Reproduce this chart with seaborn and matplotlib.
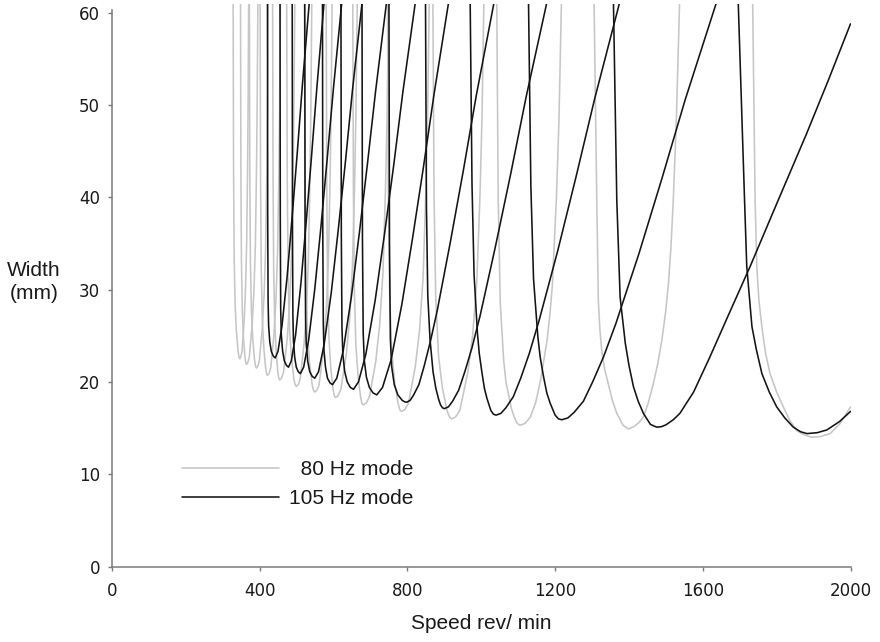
import matplotlib
matplotlib.use("Agg")
import matplotlib.pyplot as plt
from matplotlib.lines import Line2D
import pandas as pd
import seaborn as sns

# ---------------- data ----------------
mode_labels = ["80 Hz mode", "105 Hz mode"]
x_ticks = [0, 400, 800, 1200, 1600, 2000]
y_ticks = [0, 10, 20, 30, 40, 50, 60]

# 80 Hz mode lobes (speed rev/min, width mm), one list per lobe
grey_speed = [
    [328, 329.1, 330.7, 333.4, 337, 341.5, 343.8, 346, 348.9, 352, 358, 361.6, 364.7, 367.1, 368.6, 370],
    [348, 349, 350.4, 352.8, 356, 360, 362.1, 364, 367.7, 371.8, 379.5, 384.2, 388.2, 391.3, 393.1, 395],
    [372, 373.1, 374.8, 377.7, 381.5, 386.2, 388.7, 391, 394.8, 399, 407, 411.8, 416, 419.2, 421.1, 423],
    [401, 402.2, 404, 407, 411, 416, 418.6, 421, 425.2, 429.8, 438.5, 443.8, 448.3, 451.8, 453.9, 456],
    [435, 436.1, 437.8, 440.7, 444.5, 449.2, 451.7, 454, 458.9, 464.3, 474.5, 480.7, 486, 490.1, 492.5, 495],
    [473, 474.6, 476.9, 480.8, 486, 492.5, 495.9, 499, 504, 509.5, 520, 526.3, 531.8, 536, 538.5, 541],
    [521, 522.7, 525.2, 529.4, 535, 542, 545.6, 549, 554.6, 560.8, 572.5, 579.6, 585.7, 590.4, 593.2, 596],
    [580, 581.5, 583.7, 587.5, 592.5, 598.7, 602, 605, 612.1, 619.8, 634.5, 643.4, 651, 656.9, 660.5, 664],
    [652, 653.7, 656.2, 660.4, 666, 673, 676.6, 680, 688.3, 697.3, 714.5, 724.9, 733.8, 740.7, 744.9, 749],
    [746, 748.3, 751.7, 757.4, 765, 774.5, 779.4, 784, 793, 802.8, 821.5, 832.8, 842.5, 850, 854.5, 859],
    [869, 872.1, 876.6, 884.3, 894.5, 907.2, 913.9, 920, 930.4, 941.8, 963.5, 976.6, 987.9, 996.6, 1001.8, 1007],
    [1042, 1045.8, 1051.4, 1060.9, 1067.2, 1073.5, 1081.7, 1089.2, 1097.4, 1105, 1118.4, 1133, 1147.6, 1161,
     1177.8, 1185.6, 1192.4, 1203.6, 1210.3, 1217],
    [1305.5, 1312.8, 1317, 1321, 1326, 1334, 1344, 1355, 1367, 1384, 1398.5, 1415, 1427, 1439, 1452, 1466,
     1478, 1489, 1499, 1507, 1514, 1520, 1528, 1537],
    [1735, 1741.6, 1746.2, 1752, 1759.8, 1770, 1782, 1800, 1818, 1836, 1855, 1875, 1895, 1920, 1945, 1972, 2000],
]
grey_width = [
    [61, 43.3, 33.7, 28.3, 25.4, 23.3, 22.7, 22.5, 22.7, 23.3, 26.7, 30.2, 35.2, 43.3, 50.2, 61],
    [61, 43.0, 33.2, 27.8, 24.8, 22.7, 22.1, 21.9, 22.1, 22.7, 26.2, 29.7, 34.8, 43.0, 50.1, 61],
    [61, 42.8, 33.0, 27.4, 24.5, 22.3, 21.7, 21.5, 21.7, 22.3, 25.8, 29.4, 34.5, 42.8, 49.9, 61],
    [61, 42.5, 32.4, 26.7, 23.7, 21.5, 20.9, 20.7, 20.9, 21.5, 25.1, 28.8, 34.0, 42.5, 49.7, 61],
    [61, 42.2, 32.0, 26.3, 23.3, 21.0, 20.4, 20.2, 20.4, 21.0, 24.7, 28.4, 33.7, 42.2, 49.6, 61],
    [61, 41.9, 31.5, 25.7, 22.6, 20.3, 19.7, 19.5, 19.7, 20.3, 24.1, 27.8, 33.2, 41.9, 49.4, 61],
    [61, 41.6, 31.1, 25.2, 22.1, 19.7, 19.1, 18.9, 19.1, 19.7, 23.5, 27.3, 32.8, 41.6, 49.2, 61],
    [61, 41.4, 30.7, 24.7, 21.5, 19.2, 18.5, 18.3, 18.5, 19.2, 23.0, 26.8, 32.4, 41.4, 49.0, 61],
    [61, 41.0, 30.1, 24.0, 20.8, 18.4, 17.7, 17.5, 17.7, 18.4, 22.3, 26.2, 31.9, 41.0, 48.8, 61],
    [61, 40.7, 29.6, 23.4, 20.1, 17.7, 17.0, 16.8, 17.0, 17.7, 21.7, 25.6, 31.4, 40.7, 48.6, 61],
    [61, 40.3, 29.1, 22.8, 19.4, 16.9, 16.2, 16.0, 16.2, 16.9, 21.0, 25.0, 30.9, 40.3, 48.4, 61],
    [61, 40.0, 28.6, 22.2, 19.9, 18.7, 17.1, 16.2, 15.5, 15.3, 15.5, 16.2, 17.8, 20.3,
     24.4, 27.2, 30.4, 40.0, 48.2, 61],
    [61, 39.7, 28.9, 25.8, 23.5, 21.4, 19.8, 18.0, 16.6, 15.3, 14.9, 15.2, 15.6, 16.2, 17.7, 19.8,
     22.0, 24.5, 27.5, 30.7, 34.8, 39.7, 48.0, 61],
    [61, 39.7, 32.5, 28.8, 26.0, 23.1, 20.9, 18.9, 17.3, 15.8, 14.7, 14.25, 14.0, 14.1, 14.4, 15.5, 17.3],
]

# 105 Hz mode lobes
black_speed = [
    [421, 421.6, 422.7, 424.1, 427.3, 431.5, 436.7, 442, 449.4, 460.4, 474.2, 488, 501.8, 515.6, 534],
    [455, 455.7, 456.8, 458.4, 461.9, 466.5, 472.2, 478, 485.7, 497.2, 511.6, 526, 540.4, 554.8, 574],
    [488, 488.7, 489.8, 491.3, 494.6, 499, 504.5, 510, 519, 532.4, 549.2, 566, 582.8, 599.6, 622],
    [522, 522.8, 524.2, 526, 530.1, 535.5, 542.2, 549, 559.2, 574.6, 593.8, 613, 632.2, 651.4, 677],
    [570, 570.8, 572.2, 574, 578.1, 583.5, 590.2, 597, 608.7, 626.2, 648.1, 670, 691.9, 713.8, 743],
    [620, 621, 622.7, 625.1, 630.2, 637, 645.5, 654, 667.4, 687.4, 712.5, 737.5, 762.6, 787.6, 821],
    [677, 678.2, 680.2, 683, 689, 697, 707, 717, 732.5, 755.8, 784.9, 814, 843.1, 872.2, 911],
    [750, 751.4, 753.8, 757.2, 764.4, 774, 786, 792.2, 798, 807.4, 816.9, 831, 845.2, 861.7, 880.6, 916,
     951.4, 986.8, 1034],
    [849, 851.5, 855.1, 861.2, 869.4, 877, 884.7, 889.8, 894.9, 900, 911.1, 922.2, 938.8, 955.4, 974.8,
     997, 1038.5, 1080, 1121.6, 1177],
    [970, 974.9, 980.5, 989.6, 994.5, 1001.5, 1008.5, 1015.5, 1026, 1033, 1040, 1053.4, 1066.7, 1086.8,
     1106.8, 1130.2, 1156.9, 1207, 1257.1, 1307.2, 1374],
    [1128, 1134.3, 1141.5, 1153.2, 1159.5, 1168.5, 1177.5, 1186.5, 1200, 1209, 1218, 1234.7, 1251.4,
     1276.5, 1301.6, 1330.9, 1364.3, 1427, 1489.7, 1552.4, 1636],
    [1358, 1367, 1376, 1390, 1400, 1412, 1425, 1439, 1458, 1475, 1488, 1500, 1520, 1538, 1575, 1618,
     1670, 1728, 1800, 1881, 1940, 2000],
    [1696, 1713, 1719, 1733, 1745, 1760, 1780, 1800, 1822, 1845, 1865, 1882, 1910, 1936, 1970, 2000],
]
black_width = [
    [61, 38.0, 28.7, 26.1, 24.3, 23.3, 22.8, 22.6, 23.3, 26.1, 31.4, 38.0, 44.9, 52.2, 61],
    [61, 37.4, 27.9, 25.1, 23.4, 22.3, 21.8, 21.6, 22.3, 25.1, 30.7, 37.4, 44.5, 51.9, 61],
    [61, 36.9, 27.3, 24.5, 22.7, 21.6, 21.1, 20.9, 21.6, 24.5, 30.1, 36.9, 44.2, 51.8, 61],
    [61, 36.6, 26.9, 24.1, 22.2, 21.1, 20.6, 20.4, 21.1, 24.1, 29.7, 36.6, 43.9, 51.7, 61],
    [61, 36.2, 26.3, 23.4, 21.6, 20.4, 19.9, 19.7, 20.4, 23.4, 29.2, 36.2, 43.7, 51.5, 61],
    [61, 35.9, 25.9, 23.0, 21.1, 20.0, 19.4, 19.2, 20.0, 23.0, 28.8, 35.9, 43.4, 51.4, 61],
    [61, 35.6, 25.4, 22.4, 20.5, 19.4, 18.8, 18.6, 19.4, 22.4, 28.4, 35.6, 43.2, 51.2, 61],
    [61, 35.1, 24.7, 21.7, 19.7, 18.6, 18.0, 17.85, 17.8, 18.0, 18.6, 19.7, 21.7, 24.3, 27.7, 35.1,
     42.9, 51.1, 61],
    [61, 39.1, 29.4, 24.6, 21.1, 19.3, 18.1, 17.5, 17.2, 17.1, 17.3, 17.9, 19.1, 21.1, 23.7,
     27.2, 34.7, 42.6, 50.9, 61],
    [61, 41.4, 31.6, 25.3, 23.1, 21.1, 19.3, 18.2, 16.9, 16.5, 16.4, 16.6, 17.2, 18.4,
     20.4, 23.1, 26.7, 34.2, 42.3, 50.7, 61],
    [61, 41.2, 31.2, 24.9, 22.7, 20.6, 18.8, 17.7, 16.4, 16.0, 15.9, 16.1, 16.7,
     17.9, 20.0, 22.7, 26.3, 33.9, 42.1, 50.6, 61],
    [61, 39.7, 29.2, 24.2, 21.8, 19.5, 17.9, 16.6, 15.4, 15.1, 15.15, 15.35, 15.9, 16.6, 18.9, 22.6,
     27.3, 32.5, 39.3, 46.9, 52.7, 58.8],
    [61, 39.7, 32.5, 26.0, 23.5, 20.9, 18.9, 17.3, 16.1, 15.1, 14.6, 14.4, 14.5, 14.8, 15.7, 16.8],
]

# ---------------- tables for seaborn ----------------
def lobe_table(speeds, widths, mode):
    rows = []
    for lobe, (xs, ys) in enumerate(zip(speeds, widths)):
        for x, y in zip(xs, ys):
            rows.append((mode, lobe, x, y))
    return pd.DataFrame(rows, columns=["mode", "lobe", "speed", "width"])

df80 = lobe_table(grey_speed, grey_width, mode_labels[0])
df105 = lobe_table(black_speed, black_width, mode_labels[1])

# ---------------- style ----------------
sns.set_style("ticks")
plt.rcParams["font.family"] = ["Liberation Sans", "DejaVu Sans"]

LABEL_FS = 15
TICK_FS = 12
grey_c = "#c6c6c6"
black_c = "#141414"
axis_c = "#7a7a7a"
text_c = "#1a1a1a"
LW = 1.15

fig = plt.figure(figsize=(8.8, 6.42), dpi=100)
ax = fig.add_axes([0.1273, 0.1176, 0.8392, 0.8769])

sns.lineplot(data=df80, x="speed", y="width", units="lobe", estimator=None,
             sort=False, color=grey_c, lw=LW, ax=ax, legend=False)
sns.lineplot(data=df105, x="speed", y="width", units="lobe", estimator=None,
             sort=False, color=black_c, lw=LW, ax=ax, legend=False)

ax.set_xlim(0, 2000)
ax.set_ylim(0, 61)
ax.set_xticks(x_ticks)
ax.set_yticks(y_ticks)

sns.despine(ax=ax)
for side in ("left", "bottom"):
    ax.spines[side].set_color(axis_c)
    ax.spines[side].set_linewidth(1.1)
ax.spines["left"].set_bounds(0, 60.3)

ax.tick_params(axis="both", direction="out", length=3.2, width=1.0,
               color=axis_c, labelcolor=text_c, labelsize=TICK_FS)
ax.tick_params(axis="y", pad=5.5)
ax.tick_params(axis="x", pad=8)
for lab in ax.get_xticklabels() + ax.get_yticklabels():
    lab.set_fontfamily("DejaVu Sans")

ax.set_xlabel("Speed rev/ min", fontsize=LABEL_FS, color=text_c)
ax.xaxis.set_label_coords(0.5, -0.0844)
ax.set_ylabel("Width\n(mm)", fontsize=LABEL_FS, color=text_c, rotation=0,
              ha="center", va="center", linespacing=1.32)
ax.yaxis.set_label_coords(-0.1056, 0.5053)

handles = [Line2D([], [], color=grey_c, lw=LW),
           Line2D([], [], color=black_c, lw=LW)]
labels = ["\u2007" + mode_labels[0], mode_labels[1]]
leg = ax.legend(handles, labels, loc="center left", bbox_to_anchor=(0.0944, 0.1457),
                frameon=False, fontsize=LABEL_FS, handlelength=4.69, handletextpad=0.48,
                labelspacing=0.48, borderpad=0, borderaxespad=0)
for t in leg.get_texts():
    t.set_color(text_c)

fig.savefig("out.png", dpi=100)
